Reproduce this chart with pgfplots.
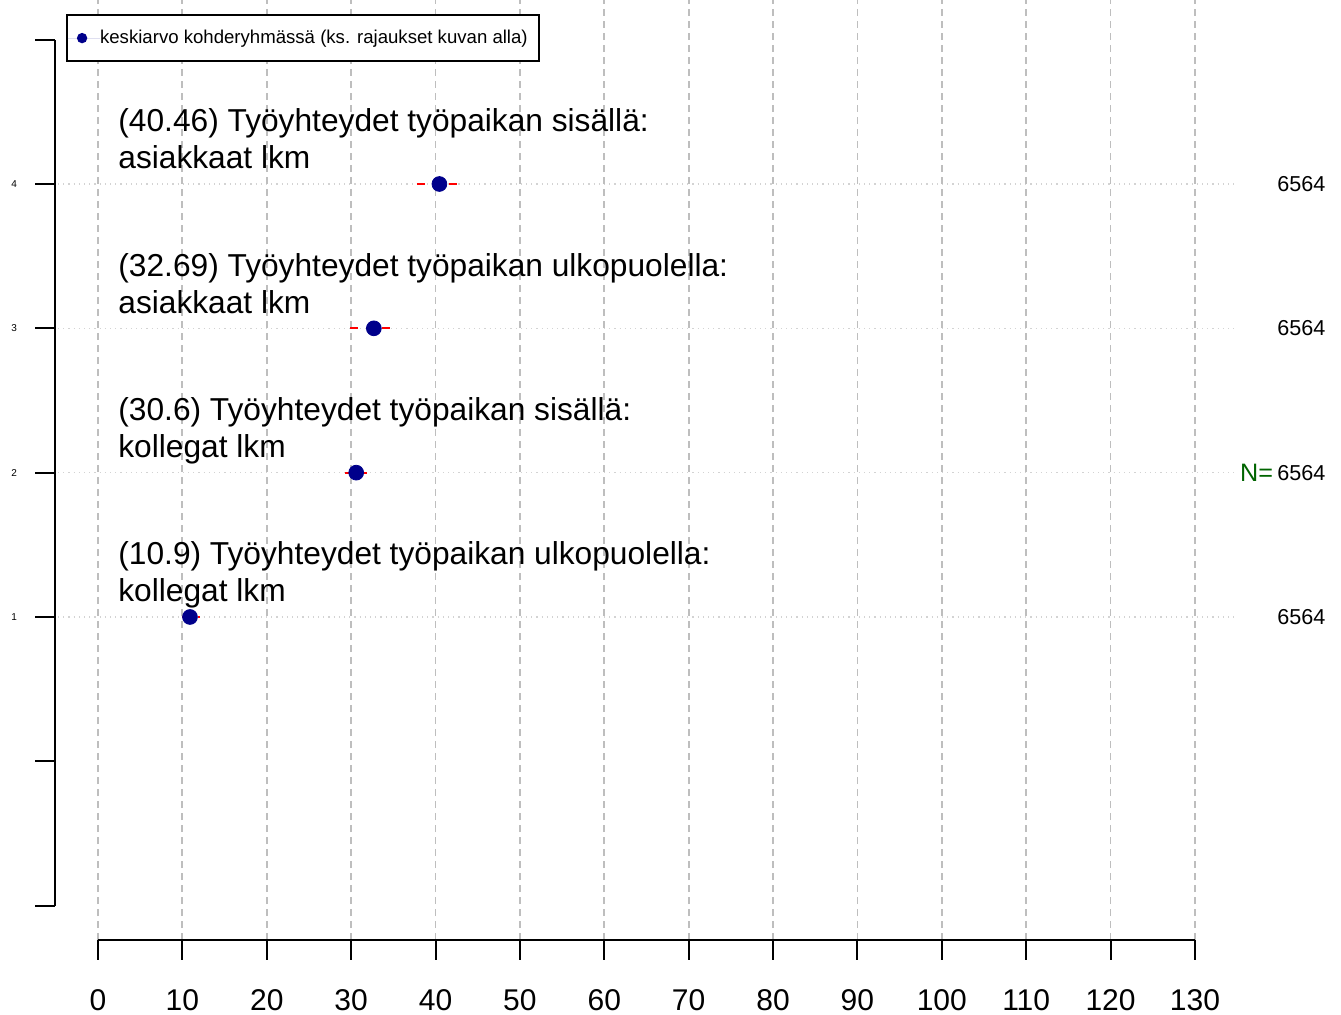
\documentclass[border=0pt]{standalone}
\usepackage{fontspec}
\setmainfont{Liberation Sans}
\usepackage{pgfplots}
\pgfplotsset{compat=1.18}
\definecolor{rdarkblue}{HTML}{00008B}
\definecolor{rdarkgreen}{HTML}{006400}
\definecolor{rgray}{HTML}{BEBEBE}
\definecolor{rlightgray}{HTML}{D3D3D3}
\begin{document}
\begin{tikzpicture}
\begin{axis}[
  name=ax,
  x=4.219pt, y=72.165pt,
  xmin=-11.614, xmax=147.31,
  ymin=-1.7576, ymax=5.2749,
  hide axis,
  clip=false,
  legend style={
    at={(axis cs:-3.792,5.1778)}, anchor=north west,
    draw=black, line width=1.1pt, fill=white,
    inner sep=0pt,
    font=\fontsize{9.3}{11}\selectfont,
    nodes={inner xsep=0pt, inner ysep=0pt, minimum height=23pt},
    /tikz/every even column/.append style={column sep=0pt},
  },
  legend image code/.code={%
    \path[draw=none] (-7.5pt,0) -- (9pt,0);
    \fill[rdarkblue, draw=none] (0,0) circle (2.6pt);
  },
]
% horizontal dotted reference lines
\foreach \r in {1,2,3,4} {
  \edef\temp{\noexpand\draw[rlightgray, line width=0.6pt, dash pattern=on 0.6pt off 2pt] (axis cs:-4.74,\r) -- (axis cs:134.75,\r);}
  \temp
}
% means
\addplot[only marks, mark=*, mark size=3.7pt, color=rdarkblue, fill=rdarkblue]
  coordinates {(40.46,4) (32.69,3) (30.6,2) (10.9,1)};
\addlegendentry{keskiarvo kohderyhmässä (ks. rajaukset kuvan alla)\rule{5.5pt}{0pt}}
% vertical dashed grid
\foreach \g in {0,10,...,130} {
  \edef\temp{\noexpand\draw[rgray, line width=0.9pt, dash pattern=on 3.5pt off 2.5pt] (axis cs:\g,-1.238) -- (axis cs:\g,5.2749);}
  \temp
}
% intervals
\addplot[red, line width=1pt, dash pattern=on 4pt off 4pt, forget plot] coordinates {(37.8,4) (42.6,4)};
\addplot[red, line width=1pt, dash pattern=on 4pt off 4pt, forget plot] coordinates {(29.9,3) (34.7,3)};
\addplot[red, line width=1pt, dash pattern=on 4pt off 4pt, forget plot] coordinates {(29.3,2) (31.9,2)};
\addplot[red, line width=1pt, dash pattern=on 4pt off 4pt, forget plot] coordinates {(9.9,1) (12.1,1)};
% y axis
\draw[line width=1pt] (axis cs:-5.096,-1) -- (axis cs:-5.096,5);
\foreach \t in {-1,0,1,2,3,4,5} {
  \edef\temp{\noexpand\draw[line width=1pt] (axis cs:-7.466,\t) -- (axis cs:-5.096,\t);}
  \temp
}
\foreach \t in {1,2,3,4} {
  \edef\temp{\noexpand\node[font=\noexpand\fontsize{5}{6}\noexpand\selectfont, inner sep=0pt] at (axis cs:-9.95,\t) {\t};}
  \temp
}
% x axis
\draw[line width=1pt] (axis cs:0,-1.238) -- (axis cs:130,-1.238);
\foreach \t in {0,10,...,130} {
  \edef\temp{\noexpand\draw[line width=1pt] (axis cs:\t,-1.238) -- (axis cs:\t,-1.377);
  \noexpand\node[font=\noexpand\fontsize{15}{18}\noexpand\selectfont, inner sep=0pt] at (axis cs:\t,-1.654) {\t};}
  \temp
}
% item labels
\begin{scope}[every node/.style={anchor=base west, inner sep=0pt, font=\fontsize{15.85}{18}\selectfont}]
\node at (axis cs:2.37,4.362) {(40.46) Työyhteydet työpaikan sisällä:};
\node at (axis cs:2.37,4.104) {asiakkaat lkm};
\node at (axis cs:2.37,3.362) {(32.69) Työyhteydet työpaikan ulkopuolella:};
\node at (axis cs:2.37,3.104) {asiakkaat lkm};
\node at (axis cs:2.37,2.362) {(30.6) Työyhteydet työpaikan sisällä:};
\node at (axis cs:2.37,2.104) {kollegat lkm};
\node at (axis cs:2.37,1.362) {(10.9) Työyhteydet työpaikan ulkopuolella:};
\node at (axis cs:2.37,1.104) {kollegat lkm};
\end{scope}
% N labels
\begin{scope}[every node/.style={anchor=west, inner sep=0pt, font=\fontsize{10.8}{12}\selectfont}]
\node at (axis cs:139.72,4) {6564};
\node at (axis cs:139.72,3) {6564};
\node at (axis cs:139.72,2) {6564};
\node at (axis cs:139.72,1) {6564};
\end{scope}
\node[anchor=east, inner sep=0pt, text=rdarkgreen, font=\fontsize{12.6}{14}\selectfont] at (axis cs:139.3,2) {N=};
\end{axis}
\pgfresetboundingbox
\path[use as bounding box] (ax.south west) rectangle (ax.north east);
\end{tikzpicture}
\end{document}
